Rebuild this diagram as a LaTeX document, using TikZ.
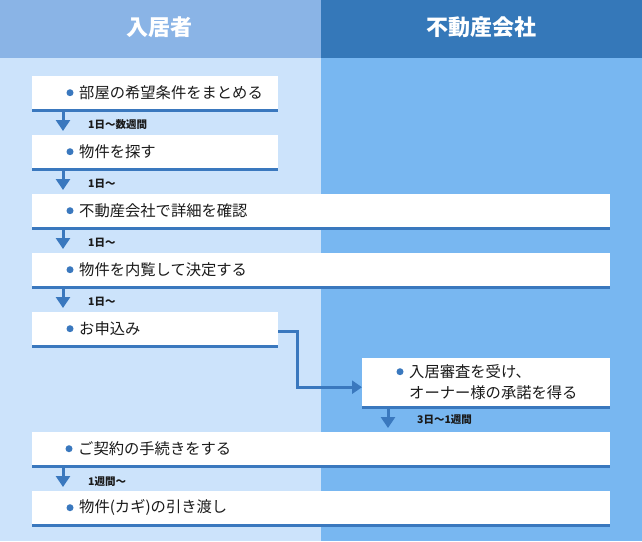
\documentclass[tikz,border=0pt]{standalone}
\usepackage{fontspec}
\setmainfont{Noto Sans CJK JP}
\usetikzlibrary{arrows.meta,calc}
\definecolor{hdL}{HTML}{8AB4E6}
\definecolor{hdR}{HTML}{3578B9}
\definecolor{bgL}{HTML}{CCE3FB}
\definecolor{bgR}{HTML}{78B7F1}
\definecolor{lineblue}{HTML}{3A78BE}
\definecolor{txtc}{HTML}{1A1A1A}
\begin{document}
\begin{tikzpicture}[x=1pt,y=-1pt,
  stepbox/.style={rectangle,fill=white,inner sep=0,anchor=north west,minimum height=33pt},
  shortbox/.style={stepbox,minimum width=246pt},
  longbox/.style={stepbox,minimum width=578pt},
  txt/.style={anchor=west,inner sep=0,font=\fontsize{15.3}{21}\selectfont,text=txtc,align=left},
  dot/.style={circle,fill=lineblue,inner sep=0,minimum size=7pt},
  lbl/.style={anchor=west,inner sep=0,font=\fontsize{10.5}{12}\selectfont\bfseries,text=txtc},
  head/.style={font=\fontsize{22}{24}\selectfont\bfseries,text=white,inner sep=0},
  bline/.style={draw=lineblue,line width=3pt},
  arr/.style={draw=lineblue,line width=3pt,-{Triangle[width=14pt,length=11pt]}},
  elbow/.style={draw=lineblue,line width=3pt,-{Triangle[width=13pt,length=10pt]}}]
\useasboundingbox (0,0) rectangle (642,541);
% columns
\fill[hdL] (0,0) rectangle (321,58);
\fill[hdR] (321,0) rectangle (642,58);
\fill[bgL] (0,58) rectangle (321,541);
\fill[bgR] (321,58) rectangle (642,541);
\node[head] (hL) at (159,27) {入居者};
\node[head] (hR) at (481,27) {不動産会社};
% boxes
\node[shortbox] (b1) at (32,76) {};
\node[shortbox] (b2) at (32,135) {};
\node[longbox] (b3) at (32,194) {};
\node[longbox] (b4) at (32,253) {};
\node[shortbox] (b5) at (32,312) {};
\node[stepbox,minimum width=248pt,minimum height=48pt] (b6) at (362,358) {};
\node[longbox] (b7) at (32,432) {};
\node[longbox] (b8) at (32,491) {};
\foreach \b in {b1,b2,b3,b4,b5,b6,b7,b8}{
  \draw[bline] ([yshift=-1.5pt]\b.south west) -- ([yshift=-1.5pt]\b.south east);
}
% bullets and texts
\node[dot] (d1) at ($(b1.west)+(38,0)$) {};
\node[txt] (t1) at ($(b1.west)+(47,0)$) {部屋の希望条件をまとめる};
\node[dot] (d2) at ($(b2.west)+(38,0)$) {};
\node[txt] (t2) at ($(b2.west)+(47,0)$) {物件を探す};
\node[dot] (d3) at ($(b3.west)+(38,0)$) {};
\node[txt] (t3) at ($(b3.west)+(47,0)$) {不動産会社で詳細を確認};
\node[dot] (d4) at ($(b4.west)+(38,0)$) {};
\node[txt] (t4) at ($(b4.west)+(47,0)$) {物件を内覧して決定する};
\node[dot] (d5) at ($(b5.west)+(38,0)$) {};
\node[txt] (t5) at ($(b5.west)+(47,0)$) {お申込み};
\node[dot] (d6) at ($(b6.west)+(38,-10.5)$) {};
\node[txt] (t6) at ($(b6.west)+(47,0)$) {入居審査を受け、\\オーナー様の承諾を得る};
\node[dot] (d7) at ($(b7.west)+(37,0)$) {};
\node[txt] (t7) at ($(b7.west)+(46,0)$) {ご契約の手続きをする};
\node[dot] (d8) at ($(b8.west)+(38,0)$) {};
\node[txt] (t8) at ($(b8.west)+(47,0)$) {物件(カギ)の引き渡し};
% arrows
\draw[arr] ($(b1.south west)+(31,3)$) -- ($(b2.north west)+(31,-4)$);
\draw[arr] ($(b2.south west)+(31,3)$) -- ($(b3.north west)+(31,-4)$);
\draw[arr] ($(b3.south west)+(31,3)$) -- ($(b4.north west)+(31,-4)$);
\draw[arr] ($(b4.south west)+(31,3)$) -- ($(b5.north west)+(31,-4)$);
\draw[elbow] ($(b5.east)+(0,2.5)$) -- ++(19.5,0) |- ($(b6.west)+(0,5)$);
\draw[arr] ($(b6.south west)+(26,3)$) -- ($(b7.north west)+(356,-4)$);
\draw[arr] ($(b7.south west)+(31,3)$) -- ($(b8.north west)+(31,-4)$);
% labels
\node[lbl] (l1) at ($(b1.south west)+(56,15)$) {1日～数週間};
\node[lbl] (l2) at ($(b2.south west)+(56,15)$) {1日～};
\node[lbl] (l3) at ($(b3.south west)+(56,15)$) {1日～};
\node[lbl] (l4) at ($(b4.south west)+(56,15)$) {1日～};
\node[lbl] (l6) at ($(b6.south west)+(55,13)$) {3日～1週間};
\node[lbl] (l7) at ($(b7.south west)+(56,16)$) {1週間～};
\end{tikzpicture}
\end{document}
